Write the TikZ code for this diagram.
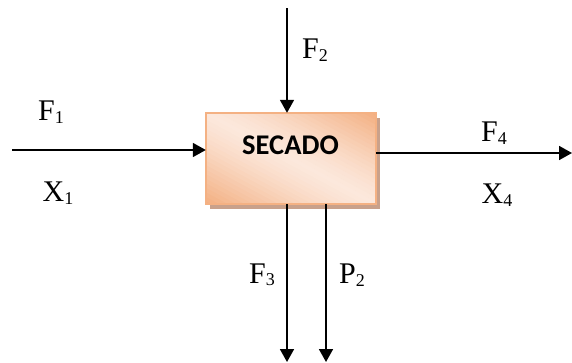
\documentclass[tikz,border=0pt]{standalone}
\usepackage{fontspec}
\setmainfont{Liberation Serif}
\newfontfamily\boxfont{Carlito}
\usetikzlibrary{arrows.meta}
\definecolor{boxline}{HTML}{F4B183}
\definecolor{boxdark}{HTML}{F3AE80}
\definecolor{boxlight}{HTML}{FCE8DC}
\definecolor{shadowc}{HTML}{C9A18B}
\newcommand{\sbs}[1]{\raisebox{-2.5pt}{\fontsize{18}{18}\selectfont #1}}
\tikzset{
  flow/.style={line width=1.8pt,-{Triangle[width=14pt,length=13pt]}},
  lbl/.style={font=\fontsize{30}{30}\selectfont,inner sep=0pt},
  procbox/.style={draw=none,fill=none,minimum width=170pt,minimum height=91pt,inner sep=0pt},
  boxedge/.style={draw=boxline,line width=2pt},
  boxshadow/.style={fill=shadowc}
}
\begin{document}
\begin{tikzpicture}[x=1pt,y=-1pt]
\useasboundingbox (0,0) rectangle (572,362);
\node[procbox] (box) at (291,158.5) {};
% shadow
\fill[boxshadow] ([xshift=4pt,yshift=-5pt]box.south west) rectangle ([xshift=4pt,yshift=-5pt]box.north east);
% gradient fill: dark towards top-right and bottom-left corners
\begin{scope}
\clip (box.south west) rectangle (box.north east);
\begin{scope}[shift={(box.center)}]
\foreach \i in {0,...,42}{
  \pgfmathsetmacro\s{-86+4*\i}
  \pgfmathsetmacro\t{\s+4.6}
  \pgfmathtruncatemacro\p{min(100,100*(abs(\s+2)/80)^1.3)}
  \fill[boxdark!\p!boxlight]
    (0.473*\s-220.25,-0.881*\s-118.25) -- (0.473*\s+220.25,-0.881*\s+118.25) --
    (0.473*\t+220.25,-0.881*\t+118.25) -- (0.473*\t-220.25,-0.881*\t-118.25) -- cycle;
}
\end{scope}
\end{scope}
\draw[boxedge] (box.south west) rectangle (box.north east);
\node[font=\boxfont\bfseries\fontsize{28.5}{28.5}\selectfont,inner sep=0pt] (txt) at (290.5,145) {SECADO};
% free ends
\coordinate (inL) at (12,150);
\coordinate (outR) at (572,153);
\coordinate (inT) at (287,8);
\coordinate (outB1) at (287,362);
\coordinate (outB2) at (326,362);
\draw[flow] (inL) -- (inL -| box.west);
\draw[flow] (inT) -- (inT |- box.north);
\draw[flow] (outR -| box.east) -- (outR);
\draw[flow] (outB1 |- box.south) -- (outB1);
\draw[flow] (outB2 |- box.south) -- (outB2);
% labels
\node[lbl] (f1) at (51,112) {F\sbs{1}};
\node[lbl] (x1) at (58,193) {X\sbs{1}};
\node[lbl] (f2) at (315,50) {F\sbs{2}};
\node[lbl] (f4) at (494,133) {F\sbs{4}};
\node[lbl] (x4) at (497,195) {X\sbs{4}};
\node[lbl] (f3) at (262,275) {F\sbs{3}};
\node[lbl] (p2) at (352,275) {P\sbs{2}};
\end{tikzpicture}
\end{document}
